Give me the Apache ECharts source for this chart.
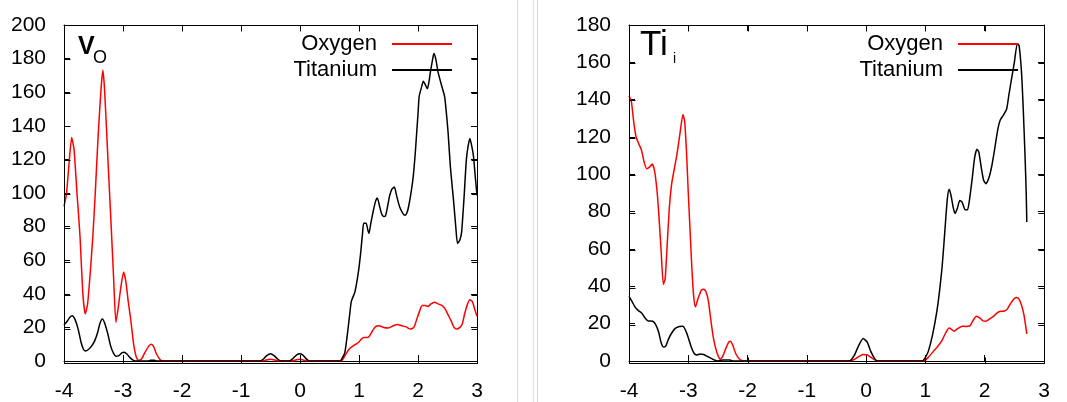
<!DOCTYPE html>
<html>
<head>
<meta charset="utf-8">
<script src="https://cdn.jsdelivr.net/npm/echarts@6/dist/echarts.min.js"></script>
<style>
  html, body { margin: 0; padding: 0; background: #fff; }
  #wrap { position: relative; width: 1067px; height: 402px; }
  #panelV { position: absolute; left: 0; top: 0; width: 533px; height: 402px; }
  #panelTi { position: absolute; left: 533px; top: 0; width: 534px; height: 402px; }
</style>
</head>
<body>
<div id="wrap">
  <div id="panelV"></div>
  <div id="panelTi"></div>
</div>
<script>
// x ticks shared by both panels
var xTicks = [-4, -3, -2, -1, 0, 1, 2, 3];
var seriesNames = ['Oxygen', 'Titanium'];
var panelTitles = [['V', 'O'], ['Ti', 'i']];
var yMaxLeft = 200, yMaxRight = 180, yStep = 20;

// V_O panel
var vOxygen = [
  [-4.00, 92], [-3.96, 99], [-3.92, 115], [-3.87, 133], [-3.83, 126], [-3.78, 100], [-3.73, 75],
  [-3.68, 40], [-3.64, 28], [-3.60, 34], [-3.55, 55], [-3.51, 75], [-3.47, 100], [-3.42, 135],
  [-3.37, 163], [-3.34, 173], [-3.31, 160], [-3.25, 116], [-3.20, 80], [-3.16, 50], [-3.12, 23],
  [-3.08, 32], [-3.04, 43], [-2.99, 53], [-2.95, 47], [-2.91, 35], [-2.87, 25], [-2.82, 10],
  [-2.78, 3], [-2.74, 0.5], [-2.69, 1], [-2.63, 5], [-2.56, 9], [-2.52, 10], [-2.48, 8.5],
  [-2.43, 4], [-2.37, 0.8], [-2.32, 0], [-0.66, 0], [-0.6, 0.3], [-0.5, 1], [-0.4, 0.3],
  [-0.34, 0], [-0.14, 0], [-0.06, 0.8], [0, 1], [0.07, 0.5], [0.14, 0], [0.70, 0], [0.76, 3],
  [0.83, 7], [0.90, 9], [0.99, 11], [1.04, 13], [1.08, 14], [1.13, 14], [1.17, 14.5], [1.23, 18],
  [1.28, 20.5], [1.34, 21], [1.42, 20], [1.50, 19.7], [1.58, 21], [1.66, 21.7], [1.72, 21],
  [1.80, 20.3], [1.87, 19], [1.93, 20], [1.98, 25], [2.03, 30], [2.07, 33], [2.12, 33],
  [2.17, 32.5], [2.22, 34], [2.28, 35], [2.34, 34], [2.41, 33], [2.46, 31], [2.51, 27.5],
  [2.56, 24], [2.61, 20], [2.66, 19], [2.71, 20], [2.75, 22], [2.79, 28], [2.84, 34],
  [2.88, 36.5], [2.92, 35.5], [2.96, 31], [3.00, 26.6]
];
var vTitanium = [
  [-4.00, 21.5], [-3.95, 23.5], [-3.90, 26], [-3.86, 27], [-3.81, 24.5], [-3.76, 19],
  [-3.71, 11], [-3.67, 7], [-3.64, 6], [-3.58, 7], [-3.53, 9], [-3.48, 12], [-3.43, 17],
  [-3.39, 22.5], [-3.35, 25], [-3.31, 22.5], [-3.26, 16.5], [-3.21, 9], [-3.16, 4.5],
  [-3.12, 2.8], [-3.07, 3.2], [-3.02, 4.8], [-2.98, 5.2], [-2.93, 4], [-2.88, 2], [-2.83, 0.5],
  [-2.79, 0], [-2.58, 0], [-2.53, 0.4], [-2.47, 0.4], [-2.42, 0], [-0.68, 0], [-0.62, 1.2],
  [-0.57, 3], [-0.50, 4.3], [-0.44, 3.2], [-0.38, 1.2], [-0.32, 0], [-0.18, 0], [-0.12, 1.5],
  [-0.06, 3.5], [-0.01, 4.3], [0.05, 3.5], [0.10, 1.5], [0.16, 0], [0.68, 0], [0.72, 2],
  [0.76, 5], [0.80, 15], [0.84, 27], [0.87, 35.5], [0.93, 41], [0.99, 53], [1.03, 65],
  [1.06, 76], [1.08, 82], [1.12, 82], [1.15, 78], [1.17, 76], [1.20, 82], [1.24, 89],
  [1.28, 95], [1.31, 97], [1.35, 92], [1.38, 88], [1.42, 86], [1.45, 86.5], [1.49, 93],
  [1.52, 98.5], [1.56, 102.5], [1.60, 103.5], [1.64, 98], [1.69, 91.6], [1.74, 88],
  [1.78, 86.7], [1.82, 89], [1.85, 93.6], [1.89, 102], [1.92, 110], [1.95, 122], [1.97, 132],
  [2.00, 147], [2.02, 157.6], [2.06, 163], [2.09, 166.5], [2.13, 164], [2.16, 162], [2.19, 167],
  [2.21, 172], [2.25, 180], [2.27, 183], [2.30, 180], [2.34, 172], [2.40, 164], [2.45, 157.6],
  [2.48, 148], [2.51, 136], [2.55, 115], [2.60, 96.5], [2.64, 80], [2.67, 70], [2.71, 72],
  [2.74, 77], [2.78, 97], [2.82, 120], [2.85, 128], [2.88, 132.4], [2.91, 128], [2.94, 122],
  [2.97, 110], [3.00, 98.5]
];

// Ti_i panel
var tiOxygen = [
  [-4.00, 142], [-3.96, 139], [-3.92, 128], [-3.88, 120], [-3.83, 116], [-3.79, 113],
  [-3.74, 106], [-3.70, 103], [-3.65, 104], [-3.61, 105.5], [-3.57, 102], [-3.53, 92],
  [-3.50, 80], [-3.46, 60], [-3.42, 41], [-3.39, 44], [-3.36, 60], [-3.32, 82], [-3.28, 95],
  [-3.23, 104], [-3.19, 111], [-3.14, 122], [-3.09, 132], [-3.06, 128], [-3.03, 112],
  [-3.00, 90], [-2.97, 70], [-2.94, 50], [-2.91, 35], [-2.88, 29], [-2.84, 33], [-2.78, 38],
  [-2.74, 38.5], [-2.70, 37], [-2.66, 32], [-2.62, 22], [-2.58, 13], [-2.54, 7], [-2.50, 3],
  [-2.46, 1], [-2.42, 2.5], [-2.37, 6.5], [-2.32, 10], [-2.29, 10.6], [-2.25, 8.5],
  [-2.20, 4], [-2.15, 1.5], [-2.10, 0.3], [-2.05, 0], [-0.30, 0], [-0.20, 0.8], [-0.12, 2.5],
  [-0.05, 3.5], [0.02, 3.2], [0.08, 2], [0.15, 0.5], [0.22, 0], [0.97, 0], [1.05, 2],
  [1.13, 5], [1.20, 7.5], [1.28, 11], [1.34, 15], [1.40, 17.7], [1.44, 17], [1.48, 16],
  [1.55, 17.5], [1.62, 18.6], [1.68, 18.5], [1.75, 18.8], [1.80, 21.5], [1.86, 24],
  [1.92, 23], [1.97, 21.5], [2.02, 21.3], [2.08, 22.5], [2.15, 24], [2.22, 26], [2.27, 26.6],
  [2.33, 26.8], [2.38, 27.8], [2.44, 31], [2.50, 33.5], [2.54, 34], [2.58, 33], [2.62, 30],
  [2.66, 25], [2.69, 19], [2.71, 14.5]
];
var tiTitanium = [
  [-4.00, 34.6], [-3.95, 32], [-3.90, 29], [-3.84, 27], [-3.78, 25.5], [-3.73, 23],
  [-3.68, 21.5], [-3.60, 21.3], [-3.55, 19.5], [-3.50, 15.5], [-3.46, 10], [-3.42, 7.5],
  [-3.38, 8], [-3.33, 12], [-3.28, 15], [-3.22, 17.5], [-3.15, 18.5], [-3.09, 18.6],
  [-3.04, 16], [-3.00, 12.5], [-2.95, 7.5], [-2.90, 4], [-2.86, 3.2], [-2.80, 3.8],
  [-2.74, 3.5], [-2.68, 2.5], [-2.62, 1.5], [-2.56, 0.5], [-2.50, 0], [-2.42, 0.5],
  [-2.30, 0.5], [-2.25, 0], [-0.28, 0], [-0.20, 3], [-0.13, 8], [-0.05, 12], [0.02, 10],
  [0.08, 5], [0.15, 1], [0.20, 0], [0.95, 0], [1.00, 2], [1.05, 5.3], [1.12, 14], [1.19, 26],
  [1.24, 38], [1.28, 50], [1.31, 62], [1.34, 75], [1.37, 87], [1.40, 92], [1.43, 89],
  [1.47, 82], [1.50, 79], [1.54, 82], [1.58, 86], [1.62, 85], [1.67, 81], [1.71, 81],
  [1.75, 88], [1.79, 98], [1.83, 109], [1.87, 113.5], [1.90, 112], [1.94, 104], [1.98, 97],
  [2.02, 95], [2.07, 98], [2.12, 104.6], [2.17, 114], [2.22, 124], [2.26, 129], [2.32, 132],
  [2.37, 135], [2.41, 143], [2.46, 152.5], [2.50, 160], [2.55, 170], [2.58, 169], [2.62, 155],
  [2.65, 135], [2.68, 110], [2.70, 90], [2.71, 74.5]
];

var FONT = 'Liberation Sans, Arial, sans-serif';
var GRID_TOP = 25, GRID_H = 338, TICK = 6;

// bottom/left axes carry the labels; top/right mirror them
function xAx(top) {
  return {
    type: 'value', position: top ? 'top' : 'bottom',
    min: xTicks[0], max: xTicks[xTicks.length - 1], interval: 1,
    axisLine: { show: true, onZero: false, lineStyle: { color: '#000', width: 1 } },
    axisTick: { show: true, inside: true, length: TICK, lineStyle: { color: '#000' } },
    axisLabel: { show: !top, color: '#000', fontSize: 21, fontFamily: FONT, margin: 20 },
    splitLine: { show: false }
  };
}
function yAx(max, right) {
  return {
    type: 'value', position: right ? 'right' : 'left',
    min: 0, max: max, interval: yStep,
    axisLine: { show: true, onZero: false, lineStyle: { color: '#000', width: 1 } },
    axisTick: { show: true, inside: true, length: TICK, lineStyle: { color: '#000' } },
    axisLabel: { show: !right, color: '#000', fontSize: 21, fontFamily: FONT, margin: 18 },
    splitLine: { show: false }
  };
}
function line(name, data, color, ai) {
  return {
    name: name, type: 'line', data: data, xAxisIndex: ai, yAxisIndex: ai,
    symbol: 'none', smooth: 0.2,
    lineStyle: { color: color, width: 1.5 }, itemStyle: { color: color }
  };
}
function titleText(t, left, top, size, bold) {
  return { type: 'text', left: left, top: top, z: 10,
    style: { text: t, fontSize: size, fontWeight: bold ? 'bold' : 'normal', fontFamily: FONT, fill: '#000' } };
}
function seg(x1, y1, x2, y2, color) {
  return { type: 'line', z: 5, shape: { x1: x1, y1: y1, x2: x2, y2: y2 },
    style: { stroke: color || '#000', lineWidth: 1 } };
}

// axis lines/ticks don't show up with this data, so the gnuplot style box
// and its inward ticks are drawn from the grid rectangle instead
function frameFor(gridLeft, gridWidth, yMax) {
  var x0 = xTicks[0], x1 = xTicks[xTicks.length - 1];
  var L = gridLeft + 0.5, R = gridLeft + gridWidth + 0.5;
  var T = GRID_TOP + 0.5, B = GRID_TOP + GRID_H + 0.5;
  var g = [seg(L, T, R, T), seg(L, B, R, B), seg(L, T, L, B), seg(R, T, R, B)];
  xTicks.forEach(function (v) {
    var x = Math.round(gridLeft + (v - x0) / (x1 - x0) * gridWidth) + 0.5;
    g.push(seg(x, B, x, B - TICK), seg(x, T, x, T + TICK));
  });
  for (var v = 0; v <= yMax; v += yStep) {
    var y = Math.round(GRID_TOP + GRID_H - v / yMax * GRID_H) + 0.5;
    g.push(seg(L, y, L + TICK, y), seg(R, y, R - TICK, y));
  }
  return g;
}

function panel(el, gridLeft, gridWidth, yMax, oxy, tit, legendRight, extras) {
  var chart = echarts.init(el);
  chart.setOption({
    backgroundColor: '#fff',
    animation: false,
    grid: { left: gridLeft, top: GRID_TOP, width: gridWidth, height: GRID_H },
    xAxis: [xAx(false), xAx(true)],
    yAxis: [yAx(yMax, false), yAx(yMax, true)],
    legend: {
      orient: 'vertical', align: 'right', right: legendRight, top: 28, itemGap: 4,
      itemWidth: 60, itemHeight: 2, icon: 'rect', selectedMode: false,
      data: seriesNames,
      textStyle: { color: '#000', fontSize: 22, fontFamily: FONT, padding: [0, 10, 0, 0] }
    },
    series: [
      line(seriesNames[0], oxy, '#ff0000', 0),
      line(seriesNames[1], tit, '#000000', 1)
    ],
    graphic: extras.concat(frameFor(gridLeft, gridWidth, yMax))
  });
  return chart;
}

panel(document.getElementById('panelV'), 64, 413, yMaxLeft, vOxygen, vTitanium, 76, [
  seg(517.5, 0, 517.5, 402, '#d8d8d8'),
  titleText(panelTitles[0][0], 78, 35, 25, true),
  titleText(panelTitles[0][1], 93, 49, 18, false)
]);
panel(document.getElementById('panelTi'), 96, 415, yMaxRight, tiOxygen, tiTitanium, 44, [
  seg(0.5, 0, 0.5, 402, '#e0e0e0'),
  seg(4.5, 0, 4.5, 402, '#d8d8d8'),
  titleText(panelTitles[1][0], 107, 28, 35, false),
  titleText(panelTitles[1][1], 140, 52, 14, false)
]);
</script>
</body>
</html>
